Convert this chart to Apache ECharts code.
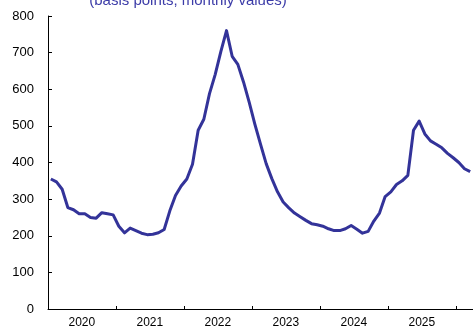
<!DOCTYPE html>
<html>
<head>
<meta charset="utf-8">
<script src="https://cdn.jsdelivr.net/npm/echarts@6/dist/echarts.min.js"></script>
<style>html,body{margin:0;padding:0;background:#fff}#c{width:473px;height:329px}</style>
</head>
<body>
<div id="c"></div>
<script>
var years = ['2020', '2021', '2022', '2023', '2024', '2025', '2026'];
var titleText = '(basis points, monthly values)';
var v2020 = [355, 347, 327, 277, 271, 260, 260, 250, 248, 263, 260, 257];
var v2021 = [226, 208, 221, 214, 207, 203, 204, 208, 217, 268, 310, 336];
var v2022 = [355, 395, 488, 518, 588, 640, 703, 760, 690, 668, 620, 565];
var v2023 = [505, 450, 397, 356, 320, 292, 276, 262, 252, 242, 233, 230];
var v2024 = [226, 219, 214, 214, 219, 228, 218, 207, 212, 240, 262, 307];
var v2025 = [320, 340, 350, 365, 488, 513, 478, 459, 450, 440, 425, 413];
var v2026 = [400, 383, 375];
var yTicks = [0, 100, 200, 300, 400, 500, 600, 700, 800];

var series = [v2020, v2021, v2022, v2023, v2024, v2025, v2026];
var cats = [], vals = [];
series.forEach(function (arr, yi) {
  arr.forEach(function (v, m) {
    cats.push(years[yi] + '-' + (m + 1));
    vals.push(v);
  });
});

var chart = echarts.init(document.getElementById('c'), null, {renderer: 'canvas'});
chart.setOption({
  animation: false,
  backgroundColor: '#ffffff',
  grid: {left: 48, right: 0, top: 16, bottom: 20, containLabel: false},
  graphic: [{
    type: 'text', x: 188, y: -7,
    style: {text: titleText, fill: '#3c3ca8', font: '15px "Liberation Sans", Arial, sans-serif', textAlign: 'center', textVerticalAlign: 'top', verticalAlign: 'top'}
  }],
  xAxis: {
    type: 'category',
    data: cats,
    boundaryGap: true,
    axisLine: {show: true, lineStyle: {color: '#000', width: 1}},
    axisTick: {show: true, inside: true, length: 3, alignWithLabel: false,
      interval: function (i) { return i % 12 === 0; },
      lineStyle: {color: '#000'}},
    axisLabel: {
      show: true, margin: 8, color: '#000', fontSize: 12, fontFamily: '"Liberation Sans", Arial, sans-serif',
      padding: [0, 6, 0, 0],
      interval: function (i) { return i % 12 === 6; },
      formatter: function (val) { return val.split('-')[0]; }
    },
    splitLine: {show: false}
  },
  yAxis: {
    type: 'value',
    min: yTicks[0], max: yTicks[yTicks.length - 1], interval: 100,
    axisLine: {show: true, lineStyle: {color: '#000', width: 1}},
    axisTick: {show: true, inside: true, length: 4, lineStyle: {color: '#000'}},
    axisLabel: {color: '#000', fontSize: 13, margin: 14, fontFamily: '"Liberation Sans", Arial, sans-serif'},
    splitLine: {show: false}
  },
  series: [{
    type: 'line',
    data: vals,
    smooth: false,
    symbol: 'none',
    lineStyle: {color: '#333399', width: 3, join: 'round'},
    itemStyle: {color: '#333399'}
  }]
});
</script>
</body>
</html>
